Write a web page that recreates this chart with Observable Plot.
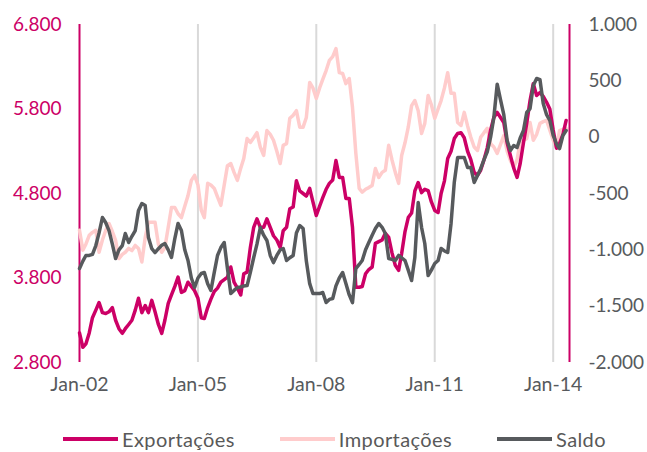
<!DOCTYPE html>
<html>
<head>
<meta charset="utf-8">
<script src="https://cdn.jsdelivr.net/npm/d3@7"></script>
<script src="https://cdn.jsdelivr.net/npm/@observablehq/plot@0.6"></script>
<style>
  body { margin: 0; background: #fff; font-family: Lato, "Open Sans", sans-serif; }
  #chart { width: 647px; }
  .legend { display: flex; justify-content: center; align-items: center; gap: 45px; height: 47px; padding-left: 22px; padding-top: 20px; box-sizing: border-box; font-size: 20px; letter-spacing: 0.4px; color: #595959; }
  .legend .item { display: flex; align-items: center; }
  .legend .sw { display: inline-block; width: 55px; height: 4px; margin-right: 4px; }
</style>
</head>
<body>
<div id="chart"></div>
<script>
// Monthly series, Jan 2002 .. May 2014
const startMonth = "2002-01-01";
const exportacoes = [
  3150, 2980, 3020, 3150, 3330, 3420, 3510, 3390, 3380, 3400, 3450, 3300,
  3200, 3145, 3200, 3250, 3300, 3420, 3560, 3390, 3475, 3390, 3535, 3400,
  3250, 3145, 3300, 3500, 3600, 3700, 3810, 3630, 3650, 3750, 3700, 3650,
  3560, 3330, 3320, 3450, 3550, 3640, 3680, 3750, 3780, 3810, 3930, 3750,
  3680, 3600, 3850, 3870, 4160, 4400, 4500, 4400, 4400, 4500, 4400, 4300,
  4250, 4160, 4360, 4400, 4620, 4640, 4950, 4830, 4800, 4770, 4860, 4700,
  4540, 4650, 4750, 4850, 4920, 4960, 5190, 4990, 4990, 4740, 4740, 4400,
  3690, 3690, 3700, 3850, 3900, 3930, 4210, 4230, 4250, 4330, 4280, 4100,
  3950, 3890, 4090, 4350, 4515, 4570, 4830, 4930, 4810, 4850, 4835, 4700,
  4600, 4575, 4800, 4950, 5215, 5300, 5450, 5510, 5520, 5460, 5300, 5200,
  5050, 5015, 5075, 5200, 5340, 5550, 5700, 5760, 5700, 5640, 5400, 5250,
  5100, 4990, 5150, 5400, 5630, 5900, 6100, 5960, 5995, 5950, 5880, 5800,
  5550, 5335, 5390, 5500, 5665
];
const importacoes = [
  4365, 4130, 4200, 4305, 4340, 4365, 4105, 4250, 4365, 4445, 4350, 4245,
  4030, 4080, 4105, 4150, 4125, 4185, 4150, 3990, 4280, 4460, 4460, 4460,
  4200, 4105, 4160, 4400, 4635, 4635, 4560, 4515, 4650, 4775, 4955, 5015,
  4900, 4600, 4515, 4920, 4900, 4860, 4760, 4660, 4900, 5130, 5155, 5050,
  4955, 5100, 5215, 5450, 5405, 5460, 5520, 5350, 5250, 5545, 5500, 5430,
  5300, 5155, 5370, 5390, 5690, 5725, 5780, 5585, 5585, 5700, 6115, 6050,
  5925, 6050, 6150, 6255, 6375, 6420, 6515, 6230, 6220, 6100, 6160, 5820,
  5275, 4860, 4815, 4850, 4870, 4895, 5095, 4990, 5050, 5075, 5370, 5200,
  5050, 4920, 5250, 5400, 5585, 5840, 5900, 5780, 5510, 5630, 5960, 5850,
  5690, 5800, 5900, 6050, 6230, 5985, 5985, 5640, 5605, 5760, 5600, 5465,
  5350, 5310, 5465, 5520, 5570, 5390, 5350, 5275, 5380, 5485, 5300, 5190,
  5110, 5200, 5405, 5430, 5450, 5640, 5430, 5500, 5630, 5650, 5665, 5550,
  5430, 5345, 5545, 5560, 5570
];
const saldo = [
  -1166, -1100, -1050, -1050, -1040, -962, -850, -713, -760, -829, -950, -1077,
  -1000, -962, -855, -935, -880, -829, -650, -589, -607, -891, -990, -1024,
  -990, -960, -944, -1000, -1068, -900, -766, -829, -1000, -1095, -1250, -1334,
  -1250, -1210, -1201, -1300, -1361, -1200, -1050, -980, -935, -1166, -1388, -1360,
  -1334, -1330, -1320, -1317, -1200, -1068, -950, -802, -870, -917, -1050, -1113,
  -1050, -1000, -988, -1095, -1070, -1050, -850, -784, -811, -1100, -1300, -1388,
  -1388, -1388, -1379, -1468, -1440, -1432, -1320, -1250, -1201, -1299, -1400, -1468,
  -1166, -1130, -1095, -1000, -935, -870, -811, -766, -800, -855, -1077, -1085,
  -1095, -1050, -1070, -1095, -1180, -1272, -1068, -580, -800, -944, -1228, -1180,
  -1121, -1095, -988, -1010, -1024, -766, -400, -180, -180, -180, -269, -269,
  -402, -340, -280, -200, -130, 0, 175, 470, 330, 200, -30, -118,
  -74, -92, -10, 59, 219, 254, 459, 521, 510, 299, 200, 148,
  15, -60, -101, 15, 59
];
const leftTicks = [2800, 3800, 4800, 5800, 6800];
const rightTicks = [-2000, -1500, -1000, -500, 0, 500, 1000];
const xTickYears = [2002, 2005, 2008, 2011, 2014];
const seriesNames = ["Exportações", "Importações", "Saldo"];
const colors = ["#CC0066", "#FFCCCC", "#575A5D"];

const leftDomain = [2800, 6800];
const rightDomain = [-2000, 1000];
const toLeft = s => leftDomain[0] + (s - rightDomain[0]) * (leftDomain[1] - leftDomain[0]) / (rightDomain[1] - rightDomain[0]);
const fromLeft = v => rightDomain[0] + (v - leftDomain[0]) * (rightDomain[1] - rightDomain[0]) / (leftDomain[1] - leftDomain[0]);

const loc = d3.formatLocale({decimal: ",", thousands: ".", grouping: [3], currency: ["", ""], minus: "-"});
const fmt = loc.format(",d");

const t0 = new Date(startMonth + "T00:00:00Z");
const dates = exportacoes.map((_, i) => d3.utcMonth.offset(t0, i));
const xEnd = d3.utcMonth.offset(t0, exportacoes.length);
const xTicks = xTickYears.map(y => new Date(Date.UTC(y, 0, 1)));

const rows = [];
dates.forEach((d, i) => {
  rows.push({date: d, series: seriesNames[1], v: importacoes[i]});
});
dates.forEach((d, i) => {
  rows.push({date: d, series: seriesNames[0], v: exportacoes[i]});
});
dates.forEach((d, i) => {
  rows.push({date: d, series: seriesNames[2], v: toLeft(saldo[i])});
});

const plot = Plot.plot({
  width: 647,
  height: 405,
  marginTop: 24,
  marginBottom: 43,
  marginLeft: 79,
  marginRight: 78,
  style: {fontFamily: "Lato, 'Open Sans', sans-serif", fontSize: "19px", background: "#fff"},
  x: {type: "utc", domain: [t0, xEnd], label: null},
  y: {domain: leftDomain, label: null},
  color: {domain: seriesNames, range: colors},
  marks: [
    Plot.ruleX(xTicks.slice(1), {stroke: "#D9D9D9", strokeWidth: 2}),
    Plot.ruleX([t0, xEnd], {stroke: "#CC0066", strokeWidth: 2}),
    Plot.axisY({anchor: "left", ticks: leftTicks, tickSize: 0, tickPadding: 18, tickFormat: fmt, color: "#CC0066", fontSize: 19, label: null}),
    Plot.axisY({anchor: "right", ticks: rightTicks.map(toLeft), tickSize: 0, tickPadding: 19, tickFormat: d => fmt(Math.round(fromLeft(d))), color: "#575A5D", fontSize: 19, label: null}),
    Plot.axisX({ticks: xTicks, tickSize: 0, tickPadding: 15, tickFormat: d => "Jan-" + d3.utcFormat("%y")(d), color: "#575A5D", fontSize: 19.5, label: null}),
    Plot.lineY(rows, {x: "date", y: "v", z: "series", stroke: "series", strokeWidth: 3.5, strokeLinejoin: "round"})
  ]
});
document.getElementById("chart").appendChild(plot);

const legend = document.createElement("div");
legend.className = "legend";
seriesNames.forEach((name, i) => {
  const item = document.createElement("span");
  item.className = "item";
  const sw = document.createElement("span");
  sw.className = "sw";
  sw.style.background = colors[i];
  const label = document.createElement("span");
  label.textContent = name;
  item.appendChild(sw);
  item.appendChild(label);
  legend.appendChild(item);
});
document.getElementById("chart").appendChild(legend);
</script>
</body>
</html>
